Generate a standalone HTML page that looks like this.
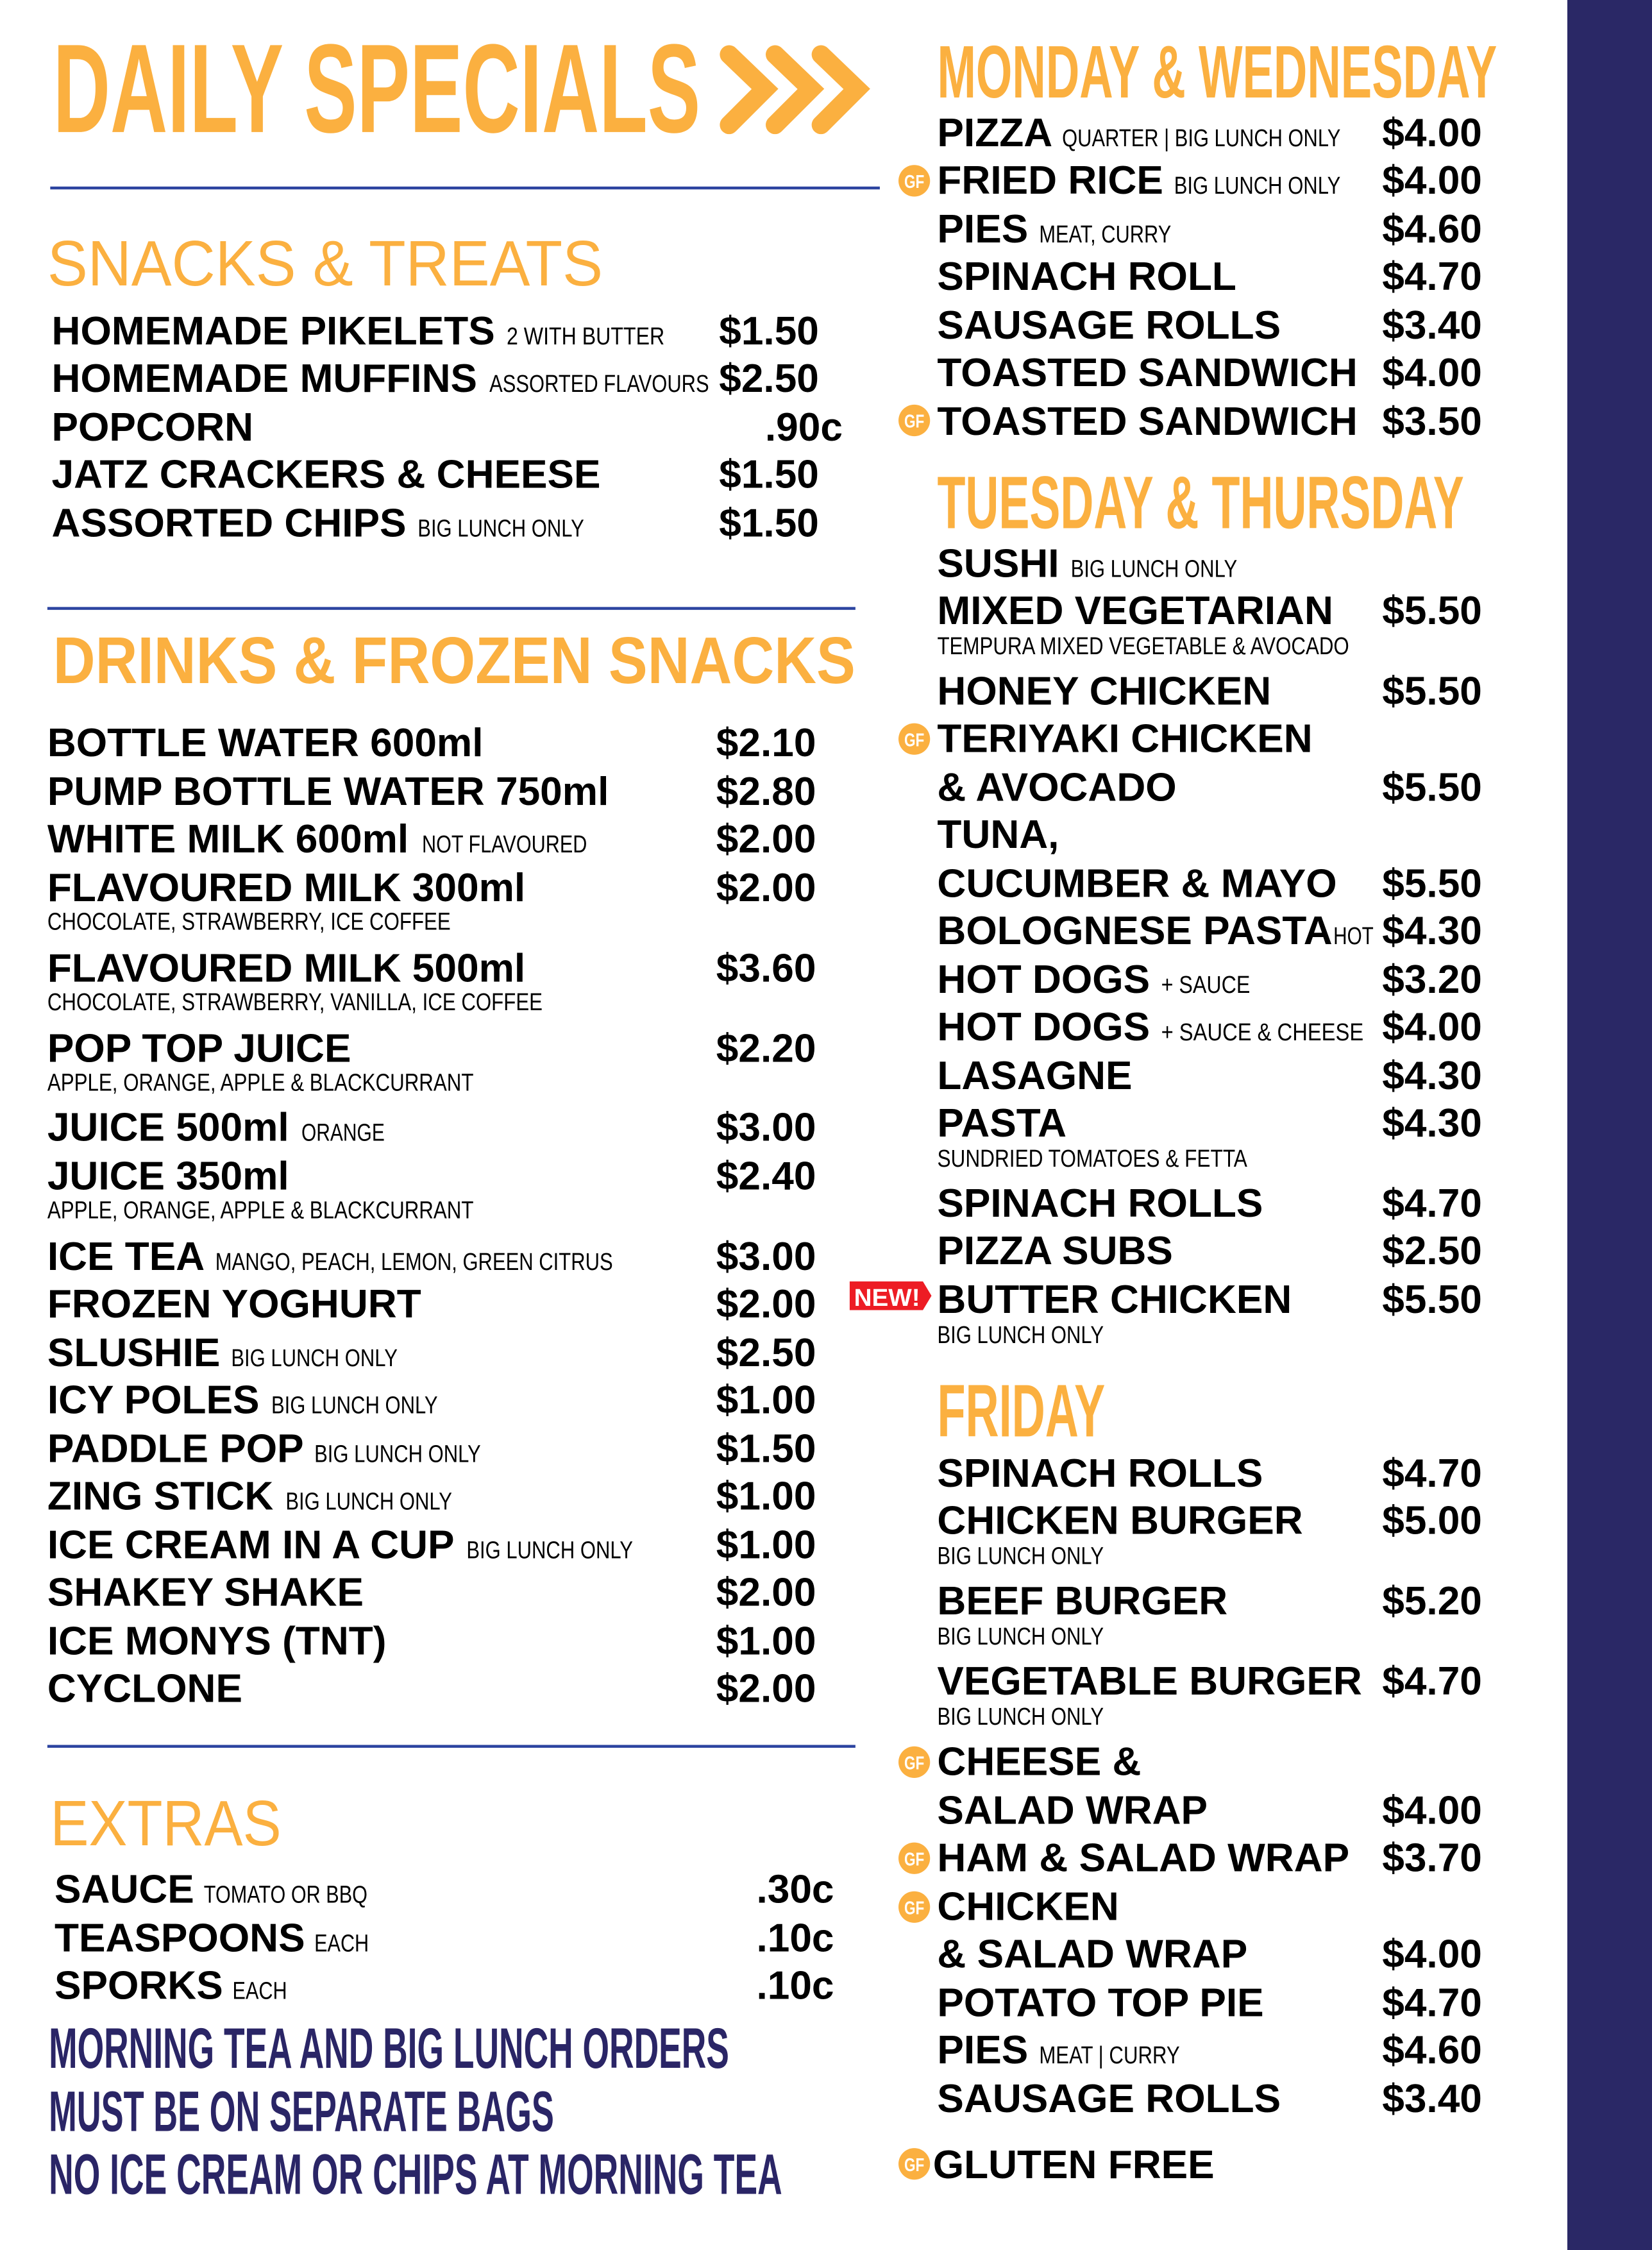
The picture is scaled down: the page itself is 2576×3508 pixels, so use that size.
<!DOCTYPE html>
<html><head><meta charset="utf-8"><style>
html,body{margin:0;padding:0;background:#fff;}
svg{display:block;}
.i{font-family:"Liberation Sans",Arial,sans-serif;font-weight:bold;font-size:27.8px;fill:#000;}
.n{font-family:"Liberation Sans Narrow","Liberation Sans",sans-serif;font-stretch:condensed;font-size:17px;fill:#000;}
.h{font-family:"Liberation Sans Narrow","Liberation Sans",sans-serif;font-stretch:condensed;font-weight:bold;fill:#FBB040;}
.l{font-family:"Liberation Sans",sans-serif;font-size:45px;fill:#FBB040;}
.b{font-family:"Liberation Sans Narrow","Liberation Sans",sans-serif;font-stretch:condensed;font-weight:bold;font-size:40px;fill:#2A2566;}
.g{font-family:"Liberation Sans Narrow","Liberation Sans",sans-serif;font-weight:bold;font-size:13px;fill:#fff;}
</style></head><body>
<svg width="2576" height="3508" viewBox="0 0 1151 1568" preserveAspectRatio="none" xmlns="http://www.w3.org/2000/svg">
<defs>
<g id="gf"><circle cx="0" cy="0" r="11" fill="#FBB040"/><text class="g" x="0" y="5" text-anchor="middle" textLength="14" lengthAdjust="spacingAndGlyphs">GF</text></g>
</defs>
<rect x="1092" y="0" width="59" height="1568" fill="#2A2866"/>

<!-- LEFT -->
<text class="h" x="37" y="92" font-size="88" textLength="451" lengthAdjust="spacingAndGlyphs">DAILY SPECIALS</text>
<g fill="none" stroke="#FBB040" stroke-width="13" stroke-linecap="round" stroke-linejoin="miter">
<polyline points="508,38 533,62 508,87"/>
<polyline points="540,38 565,62 540,87"/>
<polyline points="572,38 597,62 572,87"/>
</g>
<rect x="35" y="130" width="578" height="2" fill="#2C44A0"/>

<text class="l" x="33" y="199" textLength="387" lengthAdjust="spacingAndGlyphs">SNACKS &amp; TREATS</text>
<text class="i" x="36" y="240">HOMEMADE PIKELETS</text><text class="n" x="353" y="240" textLength="110" lengthAdjust="spacingAndGlyphs">2 WITH BUTTER</text><text class="i" x="501" y="240">$1.50</text>
<text class="i" x="36" y="273">HOMEMADE MUFFINS</text><text class="n" x="341" y="273" textLength="153" lengthAdjust="spacingAndGlyphs">ASSORTED FLAVOURS</text><text class="i" x="501" y="273">$2.50</text>
<text class="i" x="36" y="307">POPCORN</text><text class="i" x="533" y="307">.90c</text>
<text class="i" x="36" y="340">JATZ CRACKERS &amp; CHEESE</text><text class="i" x="501" y="340">$1.50</text>
<text class="i" x="36" y="374">ASSORTED CHIPS</text><text class="n" x="291" y="374" textLength="116" lengthAdjust="spacingAndGlyphs">BIG LUNCH ONLY</text><text class="i" x="501" y="374">$1.50</text>
<rect x="33" y="423" width="563" height="2" fill="#2C44A0"/>

<text class="h" x="37" y="476" font-size="46" textLength="559" lengthAdjust="spacingAndGlyphs" style="font-family:'Liberation Sans',sans-serif">DRINKS &amp; FROZEN SNACKS</text>

<text class="i" x="33" y="527">BOTTLE WATER 600ml</text><text class="i" x="499" y="527">$2.10</text>
<text class="i" x="33" y="561">PUMP BOTTLE WATER 750ml</text><text class="i" x="499" y="561">$2.80</text>
<text class="i" x="33" y="594">WHITE MILK 600ml</text><text class="n" x="294" y="594" textLength="115" lengthAdjust="spacingAndGlyphs">NOT FLAVOURED</text><text class="i" x="499" y="594">$2.00</text>
<text class="i" x="33" y="628">FLAVOURED MILK 300ml</text><text class="i" x="499" y="628">$2.00</text>
<text class="n" x="33" y="648" textLength="281" lengthAdjust="spacingAndGlyphs">CHOCOLATE, STRAWBERRY, ICE COFFEE</text>
<text class="i" x="33" y="684">FLAVOURED MILK 500ml</text><text class="i" x="499" y="684">$3.60</text>
<text class="n" x="33" y="704" textLength="345" lengthAdjust="spacingAndGlyphs">CHOCOLATE, STRAWBERRY, VANILLA, ICE COFFEE</text>
<text class="i" x="33" y="740">POP TOP JUICE</text><text class="i" x="499" y="740">$2.20</text>
<text class="n" x="33" y="760" textLength="297" lengthAdjust="spacingAndGlyphs">APPLE, ORANGE, APPLE &amp; BLACKCURRANT</text>
<text class="i" x="33" y="795">JUICE 500ml</text><text class="n" x="210" y="795" textLength="58" lengthAdjust="spacingAndGlyphs">ORANGE</text><text class="i" x="499" y="795">$3.00</text>
<text class="i" x="33" y="829">JUICE 350ml</text><text class="i" x="499" y="829">$2.40</text>
<text class="n" x="33" y="849" textLength="297" lengthAdjust="spacingAndGlyphs">APPLE, ORANGE, APPLE &amp; BLACKCURRANT</text>
<text class="i" x="33" y="885">ICE TEA</text><text class="n" x="150" y="885" textLength="277" lengthAdjust="spacingAndGlyphs">MANGO, PEACH, LEMON, GREEN CITRUS</text><text class="i" x="499" y="885">$3.00</text>
<text class="i" x="33" y="918">FROZEN YOGHURT</text><text class="i" x="499" y="918">$2.00</text>
<text class="i" x="33" y="952">SLUSHIE</text><text class="n" x="161" y="952" textLength="116" lengthAdjust="spacingAndGlyphs">BIG LUNCH ONLY</text><text class="i" x="499" y="952">$2.50</text>
<text class="i" x="33" y="985">ICY POLES</text><text class="n" x="189" y="985" textLength="116" lengthAdjust="spacingAndGlyphs">BIG LUNCH ONLY</text><text class="i" x="499" y="985">$1.00</text>
<text class="i" x="33" y="1019">PADDLE POP</text><text class="n" x="219" y="1019" textLength="116" lengthAdjust="spacingAndGlyphs">BIG LUNCH ONLY</text><text class="i" x="499" y="1019">$1.50</text>
<text class="i" x="33" y="1052">ZING STICK</text><text class="n" x="199" y="1052" textLength="116" lengthAdjust="spacingAndGlyphs">BIG LUNCH ONLY</text><text class="i" x="499" y="1052">$1.00</text>
<text class="i" x="33" y="1086">ICE CREAM IN A CUP</text><text class="n" x="325" y="1086" textLength="116" lengthAdjust="spacingAndGlyphs">BIG LUNCH ONLY</text><text class="i" x="499" y="1086">$1.00</text>
<text class="i" x="33" y="1119">SHAKEY SHAKE</text><text class="i" x="499" y="1119">$2.00</text>
<text class="i" x="33" y="1153">ICE MONYS (TNT)</text><text class="i" x="499" y="1153">$1.00</text>
<text class="i" x="33" y="1186">CYCLONE</text><text class="i" x="499" y="1186">$2.00</text>
<rect x="33" y="1216" width="563" height="2" fill="#2C44A0"/>

<text class="l" x="35" y="1286" textLength="161" lengthAdjust="spacingAndGlyphs">EXTRAS</text>
<text class="i" x="38" y="1326">SAUCE</text><text class="n" x="142" y="1326" textLength="114" lengthAdjust="spacingAndGlyphs">TOMATO OR BBQ</text><text class="i" x="527" y="1326">.30c</text>
<text class="i" x="38" y="1360">TEASPOONS</text><text class="n" x="219" y="1360" textLength="38" lengthAdjust="spacingAndGlyphs">EACH</text><text class="i" x="527" y="1360">.10c</text>
<text class="i" x="38" y="1393">SPORKS</text><text class="n" x="162" y="1393" textLength="38" lengthAdjust="spacingAndGlyphs">EACH</text><text class="i" x="527" y="1393">.10c</text>

<text class="b" x="34" y="1441" textLength="474" lengthAdjust="spacingAndGlyphs">MORNING TEA AND BIG LUNCH ORDERS</text>
<text class="b" x="34" y="1485" textLength="352" lengthAdjust="spacingAndGlyphs">MUST BE ON SEPARATE BAGS</text>
<text class="b" x="34" y="1529" textLength="511" lengthAdjust="spacingAndGlyphs">NO ICE CREAM OR CHIPS AT MORNING TEA</text>

<!-- RIGHT -->
<text class="h" x="653" y="68" font-size="52" textLength="390" lengthAdjust="spacingAndGlyphs">MONDAY &amp; WEDNESDAY</text>
<text class="i" x="653" y="102">PIZZA</text><text class="n" x="740" y="102" textLength="194" lengthAdjust="spacingAndGlyphs">QUARTER | BIG LUNCH ONLY</text><text class="i" x="963" y="102">$4.00</text>
<use href="#gf" x="637" y="126"/><text class="i" x="653" y="135">FRIED RICE</text><text class="n" x="818" y="135" textLength="116" lengthAdjust="spacingAndGlyphs">BIG LUNCH ONLY</text><text class="i" x="963" y="135">$4.00</text>
<text class="i" x="653" y="169">PIES</text><text class="n" x="724" y="169" textLength="92" lengthAdjust="spacingAndGlyphs">MEAT, CURRY</text><text class="i" x="963" y="169">$4.60</text>
<text class="i" x="653" y="202">SPINACH ROLL</text><text class="i" x="963" y="202">$4.70</text>
<text class="i" x="653" y="236">SAUSAGE ROLLS</text><text class="i" x="963" y="236">$3.40</text>
<text class="i" x="653" y="269">TOASTED SANDWICH</text><text class="i" x="963" y="269">$4.00</text>
<use href="#gf" x="637" y="293"/><text class="i" x="653" y="303">TOASTED SANDWICH</text><text class="i" x="963" y="303">$3.50</text>

<text class="h" x="653" y="368" font-size="52" textLength="367" lengthAdjust="spacingAndGlyphs">TUESDAY &amp; THURSDAY</text>
<text class="i" x="653" y="402">SUSHI</text><text class="n" x="746" y="402" textLength="116" lengthAdjust="spacingAndGlyphs">BIG LUNCH ONLY</text>
<text class="i" x="653" y="435">MIXED VEGETARIAN</text><text class="i" x="963" y="435">$5.50</text>
<text class="n" x="653" y="456" textLength="287" lengthAdjust="spacingAndGlyphs">TEMPURA MIXED VEGETABLE &amp; AVOCADO</text>
<text class="i" x="653" y="491">HONEY CHICKEN</text><text class="i" x="963" y="491">$5.50</text>
<use href="#gf" x="637" y="515"/><text class="i" x="653" y="524">TERIYAKI CHICKEN</text>
<text class="i" x="653" y="558">&amp; AVOCADO</text><text class="i" x="963" y="558">$5.50</text>
<text class="i" x="653" y="591">TUNA,</text>
<text class="i" x="653" y="625">CUCUMBER &amp; MAYO</text><text class="i" x="963" y="625">$5.50</text>
<text class="i" x="653" y="658">BOLOGNESE PASTA</text><text class="n" x="929" y="658" textLength="28" lengthAdjust="spacingAndGlyphs">HOT</text><text class="i" x="963" y="658">$4.30</text>
<text class="i" x="653" y="692">HOT DOGS</text><text class="n" x="809" y="692" textLength="62" lengthAdjust="spacingAndGlyphs">+ SAUCE</text><text class="i" x="963" y="692">$3.20</text>
<text class="i" x="653" y="725">HOT DOGS</text><text class="n" x="809" y="725" textLength="141" lengthAdjust="spacingAndGlyphs">+ SAUCE &amp; CHEESE</text><text class="i" x="963" y="725">$4.00</text>
<text class="i" x="653" y="759">LASAGNE</text><text class="i" x="963" y="759">$4.30</text>
<text class="i" x="653" y="792">PASTA</text><text class="i" x="963" y="792">$4.30</text>
<text class="n" x="653" y="813" textLength="216" lengthAdjust="spacingAndGlyphs">SUNDRIED TOMATOES &amp; FETTA</text>
<text class="i" x="653" y="848">SPINACH ROLLS</text><text class="i" x="963" y="848">$4.70</text>
<text class="i" x="653" y="881">PIZZA SUBS</text><text class="i" x="963" y="881">$2.50</text>
<polygon points="592,893 643,893 649,903 643,913 592,913" fill="#ED1C24"/>
<text x="618" y="910" text-anchor="middle" style="font-family:'Liberation Sans Narrow','Liberation Sans',sans-serif;font-weight:bold;font-size:17px;fill:#fff" textLength="46" lengthAdjust="spacingAndGlyphs">NEW!</text>
<text class="i" x="653" y="915">BUTTER CHICKEN</text><text class="i" x="963" y="915">$5.50</text>
<text class="n" x="653" y="936" textLength="116" lengthAdjust="spacingAndGlyphs">BIG LUNCH ONLY</text>

<text class="h" x="653" y="1001" font-size="52" textLength="117" lengthAdjust="spacingAndGlyphs">FRIDAY</text>
<text class="i" x="653" y="1036">SPINACH ROLLS</text><text class="i" x="963" y="1036">$4.70</text>
<text class="i" x="653" y="1069">CHICKEN BURGER</text><text class="i" x="963" y="1069">$5.00</text>
<text class="n" x="653" y="1090" textLength="116" lengthAdjust="spacingAndGlyphs">BIG LUNCH ONLY</text>
<text class="i" x="653" y="1125">BEEF BURGER</text><text class="i" x="963" y="1125">$5.20</text>
<text class="n" x="653" y="1146" textLength="116" lengthAdjust="spacingAndGlyphs">BIG LUNCH ONLY</text>
<text class="i" x="653" y="1181">VEGETABLE BURGER</text><text class="i" x="963" y="1181">$4.70</text>
<text class="n" x="653" y="1202" textLength="116" lengthAdjust="spacingAndGlyphs">BIG LUNCH ONLY</text>
<use href="#gf" x="637" y="1228"/><text class="i" x="653" y="1237">CHEESE &amp;</text>
<text class="i" x="653" y="1271">SALAD WRAP</text><text class="i" x="963" y="1271">$4.00</text>
<use href="#gf" x="637" y="1295"/><text class="i" x="653" y="1304">HAM &amp; SALAD WRAP</text><text class="i" x="963" y="1304">$3.70</text>
<use href="#gf" x="637" y="1329"/><text class="i" x="653" y="1338">CHICKEN</text>
<text class="i" x="653" y="1371">&amp; SALAD WRAP</text><text class="i" x="963" y="1371">$4.00</text>
<text class="i" x="653" y="1405">POTATO TOP PIE</text><text class="i" x="963" y="1405">$4.70</text>
<text class="i" x="653" y="1438">PIES</text><text class="n" x="724" y="1438" textLength="98" lengthAdjust="spacingAndGlyphs">MEAT | CURRY</text><text class="i" x="963" y="1438">$4.60</text>
<text class="i" x="653" y="1472">SAUSAGE ROLLS</text><text class="i" x="963" y="1472">$3.40</text>
<use href="#gf" x="637" y="1508"/><text class="i" x="650" y="1518">GLUTEN FREE</text>
</svg>
</body></html>
